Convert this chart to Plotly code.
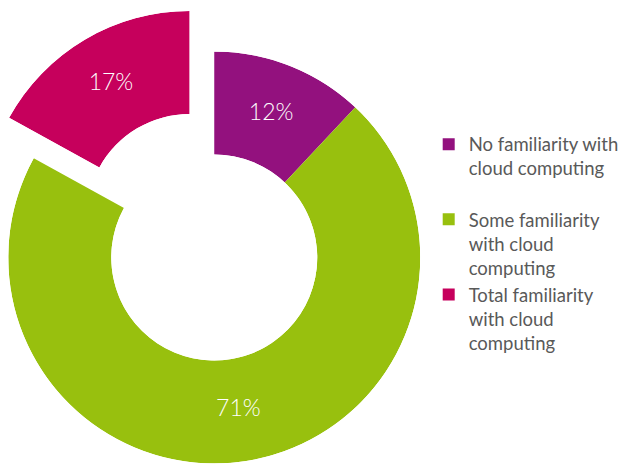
import numpy as np
import plotly.graph_objects as go

# ---- data ----
labels = [
    "No familiarity with<br>cloud computing<br> ",
    "Some familiarity<br>with cloud<br>computing",
    "Total familiarity<br>with cloud<br>computing",
]
values = [12, 71, 17]
colors = ["#93117E", "#98C00E", "#C6005C"]
exploded = [False, False, True]

# ---- geometry (pixels, figure coordinates) ----
W, H = 619, 457           # page body has an 8px margin
OFF = 8.0
R = 206.0
HOLE = 0.5
MAIN_C = (214.25 - OFF, 257.5 - OFF)
EXPL_C = (189.6 - OFF, 217.0 - OFF)

total = float(sum(values))
spans = np.array(values) / total * 360.0
starts = np.concatenate([[0.0], np.cumsum(spans)[:-1]])
mids = starts + spans / 2.0


def full_domain(c):
    cx, cy = c
    return dict(x=[max(0.0, (cx - R) / W), (cx + R) / W],
                y=[max(0.0, (H - cy - R) / H), (H - cy + R) / H])


def sector_domain(c, s0, s1):
    cx, cy = c
    ang = np.deg2rad(np.linspace(s0, s1, 2001))
    xs = np.concatenate([np.cos(ang), [0.0]])
    ys = np.concatenate([np.sin(ang), [0.0]])
    bx0, bx1, by0, by1 = xs.min(), xs.max(), ys.min(), ys.max()
    return dict(x=[(cx + R * bx0) / W, (cx + R * bx1) / W],
                y=[(H - (cy - R * by0)) / H, (H - (cy - R * by1)) / H])


ei = exploded.index(True)
sec_a = (90.0 - (starts[ei] + spans[ei])) % 360.0
sec_b = sec_a + spans[ei]

fig = go.Figure()
for i in range(len(values)):
    sub = "polar2" if exploded[i] else "polar"
    fig.add_trace(go.Barpolar(
        r=[1], theta=[mids[i]], width=[spans[i]], base=0,
        marker=dict(color=colors[i], line=dict(width=0)),
        name=labels[i], subplot=sub, hoverinfo="name",
    ))
for i in range(len(values)):
    sub = "polar2" if exploded[i] else "polar"
    fig.add_trace(go.Scatterpolar(
        r=[0.5], theta=[mids[i]], mode="text", text=[f"{values[i]}%"],
        textfont=dict(family="Lato", size=23, color="white", weight=300),
        subplot=sub, showlegend=False, hoverinfo="skip",
    ))

polar_common = dict(
    hole=HOLE, bgcolor="rgba(0,0,0,0)",
    angularaxis=dict(visible=False, rotation=90, direction="clockwise"),
    radialaxis=dict(visible=False, range=[0, 1]),
)

fig.update_layout(
    template="none",
    width=W, height=H,
    margin=dict(l=0, r=0, t=0, b=0, autoexpand=False),
    paper_bgcolor="white",
    polar=dict(domain=full_domain(MAIN_C), **polar_common),
    polar2=dict(domain=sector_domain(EXPL_C, sec_a, sec_b),
                sector=[sec_a, sec_b], **polar_common),
    showlegend=True,
    legend=dict(
        x=(428.7 - OFF) / W, xanchor="left",
        y=1 - (125.7 - OFF) / H, yanchor="top",
        valign="top", bgcolor="rgba(0,0,0,0)",
        font=dict(family="Lato", size=18.5, color="#595959"),
    ),
)

fig.write_html("out.html")
